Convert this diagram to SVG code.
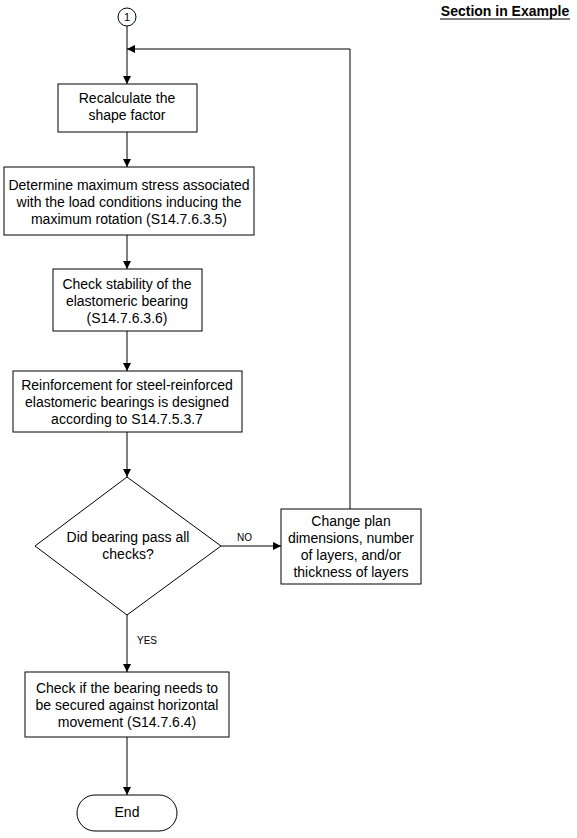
<svg xmlns="http://www.w3.org/2000/svg" width="577" height="838" viewBox="0 0 577 838">
<style>
.box{fill:#fff;stroke:#000;stroke-width:1}
.t{font-family:"Liberation Sans",Arial,sans-serif;font-size:14px;fill:#000;text-anchor:middle}
.lbl{font-family:"Liberation Sans",Arial,sans-serif;font-size:10px;fill:#000}
.c{fill:none;stroke:#000;stroke-width:1}
</style>
<defs>
<marker id="ah" viewBox="0 0 10 10" refX="10" refY="5" markerWidth="8" markerHeight="8" markerUnits="userSpaceOnUse" orient="auto">
<path d="M0,0 L10,5 L0,10 z" fill="#000"/>
</marker>
</defs>
<rect width="577" height="838" fill="#fff"/>
<g id="connectors">
<line class="c" x1="127" y1="26" x2="127" y2="84" marker-end="url(#ah)"/>
<polyline class="c" points="350,509 350,49 127,49" marker-end="url(#ah)"/>
<line class="c" x1="127" y1="132" x2="127" y2="167" marker-end="url(#ah)"/>
<line class="c" x1="127" y1="235" x2="127" y2="269" marker-end="url(#ah)"/>
<line class="c" x1="127" y1="331" x2="127" y2="371" marker-end="url(#ah)"/>
<line class="c" x1="127" y1="432" x2="127" y2="477" marker-end="url(#ah)"/>
<line class="c" x1="221" y1="546" x2="281" y2="546" marker-end="url(#ah)"/>
<line class="c" x1="127" y1="615" x2="127" y2="672" marker-end="url(#ah)"/>
<line class="c" x1="127" y1="737" x2="127" y2="795" marker-end="url(#ah)"/>
<text class="lbl" x="237" y="541">NO</text>
<text class="lbl" x="137" y="644">YES</text>
</g>
<g id="n_start">
<circle class="box" cx="127" cy="17" r="9"/>
<text class="t" x="127" y="21" style="font-size:11px">1</text>
</g>
<g id="n_section">
<text x="505" y="16" style="font-family:'Liberation Sans',Arial,sans-serif;font-size:14px;font-weight:bold;text-anchor:middle">Section in Example</text>
<line x1="440" y1="19" x2="570" y2="19" stroke="#000" stroke-width="1"/>
</g>
<g id="n_recalc">
<rect class="box" x="58" y="84" width="139" height="48"/>
<text class="t" x="127" y="103">Recalculate the</text>
<text class="t" x="127" y="120">shape factor</text>
</g>
<g id="n_stress">
<rect class="box" x="4" y="167" width="250" height="68"/>
<text class="t" x="129" y="190">Determine maximum stress associated</text>
<text class="t" x="129" y="207">with the load conditions inducing the</text>
<text class="t" x="129" y="224">maximum rotation (S14.7.6.3.5)</text>
</g>
<g id="n_stability">
<rect class="box" x="53" y="269" width="149" height="62"/>
<text class="t" x="127" y="289">Check stability of the</text>
<text class="t" x="127" y="306">elastomeric bearing</text>
<text class="t" x="127" y="323">(S14.7.6.3.6)</text>
</g>
<g id="n_reinf">
<rect class="box" x="13" y="371" width="229" height="61"/>
<text class="t" x="127" y="390">Reinforcement for steel-reinforced</text>
<text class="t" x="127" y="407">elastomeric bearings is designed</text>
<text class="t" x="127" y="424">according to S14.7.5.3.7</text>
</g>
<g id="n_decision">
<polygon class="box" points="127,477 221,546 127,615 35,546"/>
<text class="t" x="128" y="542">Did bearing pass all</text>
<text class="t" x="128" y="559">checks?</text>
</g>
<g id="n_change">
<rect class="box" x="281" y="509" width="140" height="75"/>
<text class="t" x="351" y="526">Change plan</text>
<text class="t" x="351" y="543">dimensions, number</text>
<text class="t" x="351" y="560">of layers, and/or</text>
<text class="t" x="351" y="577">thickness of layers</text>
</g>
<g id="n_secured">
<rect class="box" x="25" y="672" width="204" height="65"/>
<text class="t" x="127" y="693">Check if the bearing needs to</text>
<text class="t" x="127" y="710">be secured against horizontal</text>
<text class="t" x="127" y="727">movement (S14.7.6.4)</text>
</g>
<g id="n_end">
<rect class="box" x="77" y="795" width="100" height="36" rx="18" ry="18"/>
<text class="t" x="127" y="817">End</text>
</g>
</svg>
